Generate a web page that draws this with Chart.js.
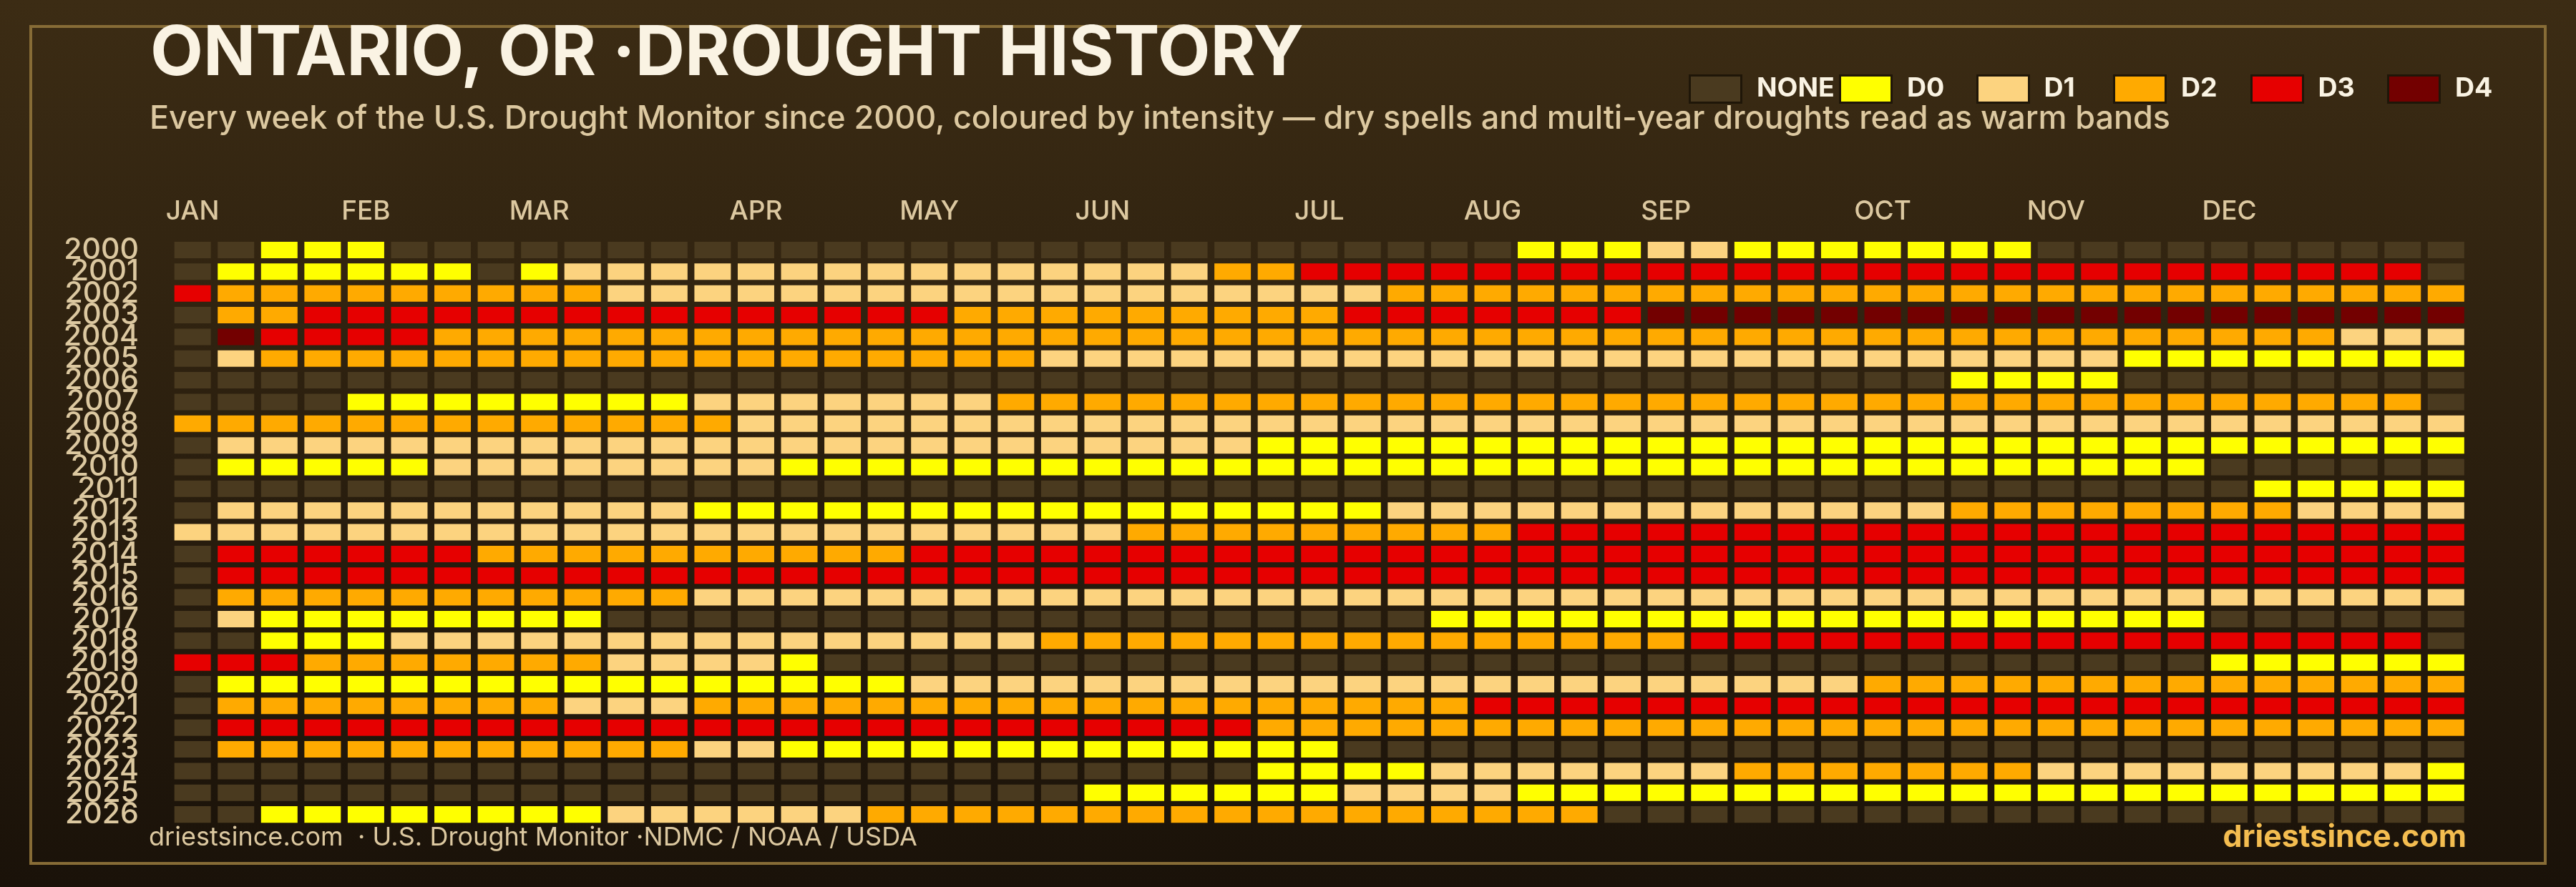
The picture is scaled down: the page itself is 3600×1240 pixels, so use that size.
<!DOCTYPE html>
<html>
<head>
<meta charset="utf-8">
<title>Ontario, OR drought history</title>
<script src="https://cdn.jsdelivr.net/npm/chart.js@4"></script>
<style>
  html, body { margin: 0; padding: 0; }
  body {
    width: 3600px; height: 1240px; position: relative; overflow: hidden;
    background: linear-gradient(to bottom, #3c2c14 0%, #1a1209 100%);
    font-family: Inter, sans-serif;
  }
  #frame { position: absolute; left: 41px; top: 35px; width: 3510px; height: 1166px; border: 4px solid #876c36; }
  canvas { position: absolute; left: 0; top: 0; }
  .txt { position: absolute; white-space: pre; line-height: 1; }
  #title { left: 210px; top: 22px; font-size: 96px; font-weight: 700; color: #faf3e3; }
  #sub { left: 209px; top: 141px; font-size: 45px; color: #dcc8a0; font-weight: 500; letter-spacing: -0.09px; }
  #src { left: 208px; top: 1151px; font-size: 36px; color: #dcc8a0; letter-spacing: 0.05px; }
  #brand { right: 153px; top: 1147px; font-size: 43px; font-weight: 700; color: #f4bd50; }
  #legend { position: absolute; left: 2360px; top: 104px; display: flex; }
  #legend .item { width: 191.5px; display: flex; }
  #legend .item:first-child { width: 210px; }
  #legend .swatch { width: 75px; height: 41px; box-sizing: border-box; border: 3px solid #1f1608; margin-right: 20px; flex: none; }
  #legend .name { font-size: 37.5px; line-height: 36px; font-weight: 700; color: #faf3e3; }
</style>
</head>
<body>
<div id="frame"></div>
<canvas id="chart" width="3600" height="1240"></canvas>
<div class="txt" id="title">ONTARIO, OR ·DROUGHT HISTORY</div>
<div class="txt" id="sub">Every week of the U.S. Drought Monitor since 2000, coloured by intensity — dry spells and multi-year droughts read as warm bands</div>
<div class="txt" id="src">driestsince.com  · U.S. Drought Monitor ·NDMC / NOAA / USDA</div>
<div class="txt" id="brand">driestsince.com</div>
<div id="legend"></div>
<script>
const levelNames = ['NONE', 'D0', 'D1', 'D2', 'D3', 'D4'];
const levelColors = ['#4a3a1f', '#ffff00', '#fcd37f', '#ffaa00', '#e60000', '#730000'];
const monthNames = ['JAN', 'FEB', 'MAR', 'APR', 'MAY', 'JUN', 'JUL', 'AUG', 'SEP', 'OCT', 'NOV', 'DEC'];
const monthWeeks = [0, 4, 8, 13, 17, 21, 26, 30, 34, 39, 43, 47];
const years = ['2000', '2001', '2002', '2003', '2004', '2005', '2006', '2007', '2008', '2009', '2010', '2011', '2012',
  '2013', '2014', '2015', '2016', '2017', '2018', '2019', '2020', '2021', '2022', '2023', '2024', '2025', '2026'];

// drought level per week, index into levelNames
const y2000 = [0,0,1,1,1,0,0,0,0,0, 0,0,0,0,0,0,0,0,0,0, 0,0,0,0,0,0,0,0,0,0, 0,1,1,1,2,2,1,1,1,1, 1,1,1,0,0,0,0,0,0,0, 0,0,0];
const y2001 = [0,1,1,1,1,1,1,0,1,2, 2,2,2,2,2,2,2,2,2,2, 2,2,2,2,3,3,4,4,4,4, 4,4,4,4,4,4,4,4,4,4, 4,4,4,4,4,4,4,4,4,4, 4,4,0];
const y2002 = [4,3,3,3,3,3,3,3,3,3, 2,2,2,2,2,2,2,2,2,2, 2,2,2,2,2,2,2,2,3,3, 3,3,3,3,3,3,3,3,3,3, 3,3,3,3,3,3,3,3,3,3, 3,3,3];
const y2003 = [0,3,3,4,4,4,4,4,4,4, 4,4,4,4,4,4,4,4,3,3, 3,3,3,3,3,3,3,4,4,4, 4,4,4,4,5,5,5,5,5,5, 5,5,5,5,5,5,5,5,5,5, 5,5,5];
const y2004 = [0,5,4,4,4,4,3,3,3,3, 3,3,3,3,3,3,3,3,3,3, 3,3,3,3,3,3,3,3,3,3, 3,3,3,3,3,3,3,3,3,3, 3,3,3,3,3,3,3,3,3,3, 2,2,2];
const y2005 = [0,2,3,3,3,3,3,3,3,3, 3,3,3,3,3,3,3,3,3,3, 2,2,2,2,2,2,2,2,2,2, 2,2,2,2,2,2,2,2,2,2, 2,2,2,2,2,1,1,1,1,1, 1,1,1];
const y2006 = [0,0,0,0,0,0,0,0,0,0, 0,0,0,0,0,0,0,0,0,0, 0,0,0,0,0,0,0,0,0,0, 0,0,0,0,0,0,0,0,0,0, 0,1,1,1,1,0,0,0,0,0, 0,0,0];
const y2007 = [0,0,0,0,1,1,1,1,1,1, 1,1,2,2,2,2,2,2,2,3, 3,3,3,3,3,3,3,3,3,3, 3,3,3,3,3,3,3,3,3,3, 3,3,3,3,3,3,3,3,3,3, 3,3,0];
const y2008 = [3,3,3,3,3,3,3,3,3,3, 3,3,3,2,2,2,2,2,2,2, 2,2,2,2,2,2,2,2,2,2, 2,2,2,2,2,2,2,2,2,2, 2,2,2,2,2,2,2,2,2,2, 2,2,2];
const y2009 = [0,2,2,2,2,2,2,2,2,2, 2,2,2,2,2,2,2,2,2,2, 2,2,2,2,2,1,1,1,1,1, 1,1,1,1,1,1,1,1,1,1, 1,1,1,1,1,1,1,1,1,1, 1,1,1];
const y2010 = [0,1,1,1,1,1,2,2,2,2, 2,2,2,2,1,1,1,1,1,1, 1,1,1,1,1,1,1,1,1,1, 1,1,1,1,1,1,1,1,1,1, 1,1,1,1,1,1,1,0,0,0, 0,0,0];
const y2011 = [0,0,0,0,0,0,0,0,0,0, 0,0,0,0,0,0,0,0,0,0, 0,0,0,0,0,0,0,0,0,0, 0,0,0,0,0,0,0,0,0,0, 0,0,0,0,0,0,0,0,1,1, 1,1,1];
const y2012 = [0,2,2,2,2,2,2,2,2,2, 2,2,1,1,1,1,1,1,1,1, 1,1,1,1,1,1,1,1,2,2, 2,2,2,2,2,2,2,2,2,2, 2,3,3,3,3,3,3,3,3,2, 2,2,2];
const y2013 = [2,2,2,2,2,2,2,2,2,2, 2,2,2,2,2,2,2,2,2,2, 2,2,3,3,3,3,3,3,3,3, 3,4,4,4,4,4,4,4,4,4, 4,4,4,4,4,4,4,4,4,4, 4,4,4];
const y2014 = [0,4,4,4,4,4,4,3,3,3, 3,3,3,3,3,3,3,4,4,4, 4,4,4,4,4,4,4,4,4,4, 4,4,4,4,4,4,4,4,4,4, 4,4,4,4,4,4,4,4,4,4, 4,4,4];
const y2015 = [0,4,4,4,4,4,4,4,4,4, 4,4,4,4,4,4,4,4,4,4, 4,4,4,4,4,4,4,4,4,4, 4,4,4,4,4,4,4,4,4,4, 4,4,4,4,4,4,4,4,4,4, 4,4,4];
const y2016 = [0,3,3,3,3,3,3,3,3,3, 3,3,2,2,2,2,2,2,2,2, 2,2,2,2,2,2,2,2,2,2, 2,2,2,2,2,2,2,2,2,2, 2,2,2,2,2,2,2,2,2,2, 2,2,2];
const y2017 = [0,2,1,1,1,1,1,1,1,1, 0,0,0,0,0,0,0,0,0,0, 0,0,0,0,0,0,0,0,0,1, 1,1,1,1,1,1,1,1,1,1, 1,1,1,1,1,1,1,0,0,0, 0,0,0];
const y2018 = [0,0,1,1,1,2,2,2,2,2, 2,2,2,2,2,2,2,2,2,2, 3,3,3,3,3,3,3,3,3,3, 3,3,3,3,3,4,4,4,4,4, 4,4,4,4,4,4,4,4,4,4, 4,4,0];
const y2019 = [4,4,4,3,3,3,3,3,3,3, 2,2,2,2,1,0,0,0,0,0, 0,0,0,0,0,0,0,0,0,0, 0,0,0,0,0,0,0,0,0,0, 0,0,0,0,0,0,0,1,1,1, 1,1,1];
const y2020 = [0,1,1,1,1,1,1,1,1,1, 1,1,1,1,1,1,1,2,2,2, 2,2,2,2,2,2,2,2,2,2, 2,2,2,2,2,2,2,2,2,3, 3,3,3,3,3,3,3,3,3,3, 3,3,3];
const y2021 = [0,3,3,3,3,3,3,3,3,2, 2,2,3,3,3,3,3,3,3,3, 3,3,3,3,3,3,3,3,3,3, 4,4,4,4,4,4,4,4,4,4, 4,4,4,4,4,4,4,4,4,4, 4,4,4];
const y2022 = [0,4,4,4,4,4,4,4,4,4, 4,4,4,4,4,4,4,4,4,4, 4,4,4,4,4,3,3,3,3,3, 3,3,3,3,3,3,3,3,3,3, 3,3,3,3,3,3,3,3,3,3, 3,3,3];
const y2023 = [0,3,3,3,3,3,3,3,3,3, 3,3,2,2,1,1,1,1,1,1, 1,1,1,1,1,1,1,0,0,0, 0,0,0,0,0,0,0,0,0,0, 0,0,0,0,0,0,0,0,0,0, 0,0,0];
const y2024 = [0,0,0,0,0,0,0,0,0,0, 0,0,0,0,0,0,0,0,0,0, 0,0,0,0,0,1,1,1,1,2, 2,2,2,2,2,2,3,3,3,3, 3,3,3,2,2,2,2,2,2,2, 2,2,1];
const y2025 = [0,0,0,0,0,0,0,0,0,0, 0,0,0,0,0,0,0,0,0,0, 0,1,1,1,1,1,1,2,2,2, 2,1,1,1,1,1,1,1,1,1, 1,1,1,1,1,1,1,1,1,1, 1,1,1];
const y2026 = [0,0,1,1,1,1,1,1,1,1, 2,2,2,2,2,2,3,3,3,3, 3,3,3,3,3,3,3,3,3,3, 3,3,3,0,0,0,0,0,0,0, 0,0,0,0,0,0,0,0,0,0, 0,0,0];
const yearRows = [y2000, y2001, y2002, y2003, y2004, y2005, y2006, y2007, y2008, y2009, y2010, y2011, y2012,
  y2013, y2014, y2015, y2016, y2017, y2018, y2019, y2020, y2021, y2022, y2023, y2024, y2025, y2026];

// one floating-bar dataset per level, a bar spans most of its week
const cellHalf = 0.421;
const datasets = levelNames.map((name, lvl) => {
  const cells = [];
  yearRows.forEach((row, r) => row.forEach((v, w) => {
    if (v === lvl) cells.push({ y: years[r], x: [w - cellHalf, w + cellHalf] });
  }));
  return {
    label: name, data: cells, backgroundColor: levelColors[lvl],
    grouped: false, barPercentage: 0.758, categoryPercentage: 1, inflateAmount: 0, borderWidth: 0
  };
});

new Chart(document.getElementById('chart'), {
  type: 'bar',
  data: { labels: years, datasets },
  options: {
    indexAxis: 'y',
    responsive: false,
    animation: false,
    layout: { padding: { left: 0, top: 0, right: 151.4, bottom: 86.2 } },
    plugins: { legend: { display: false }, tooltip: { enabled: false } },
    scales: {
      x: {
        type: 'linear', position: 'top', min: -0.5, max: 52.5,
        grid: { display: false }, border: { display: false },
        afterBuildTicks: s => { s.ticks = monthWeeks.map(w => ({ value: w })); },
        afterFit: s => { s.height = 334.3; },
        ticks: {
          autoSkip: false, maxRotation: 0, padding: 8, color: '#dcc8a0',
          font: { family: 'Inter', size: 37, weight: 500 },
          callback: v => monthNames[monthWeeks.indexOf(v)]
        }
      },
      y: {
        type: 'category', position: 'left',
        grid: { display: false, drawTicks: false }, border: { display: false },
        afterFit: s => { s.width = 238.9; },
        ticks: { autoSkip: false, padding: 45, color: '#dcc8a0', font: { family: 'Inter', size: 41, weight: 500 } }
      }
    }
  }
});

const legendBox = document.getElementById('legend');
levelNames.forEach((name, i) => {
  const item = document.createElement('div');
  item.className = 'item';
  item.innerHTML = '<span class="swatch" style="background:' + levelColors[i] + '"></span><span class="name">' + name + '</span>';
  legendBox.appendChild(item);
});
</script>
</body>
</html>
